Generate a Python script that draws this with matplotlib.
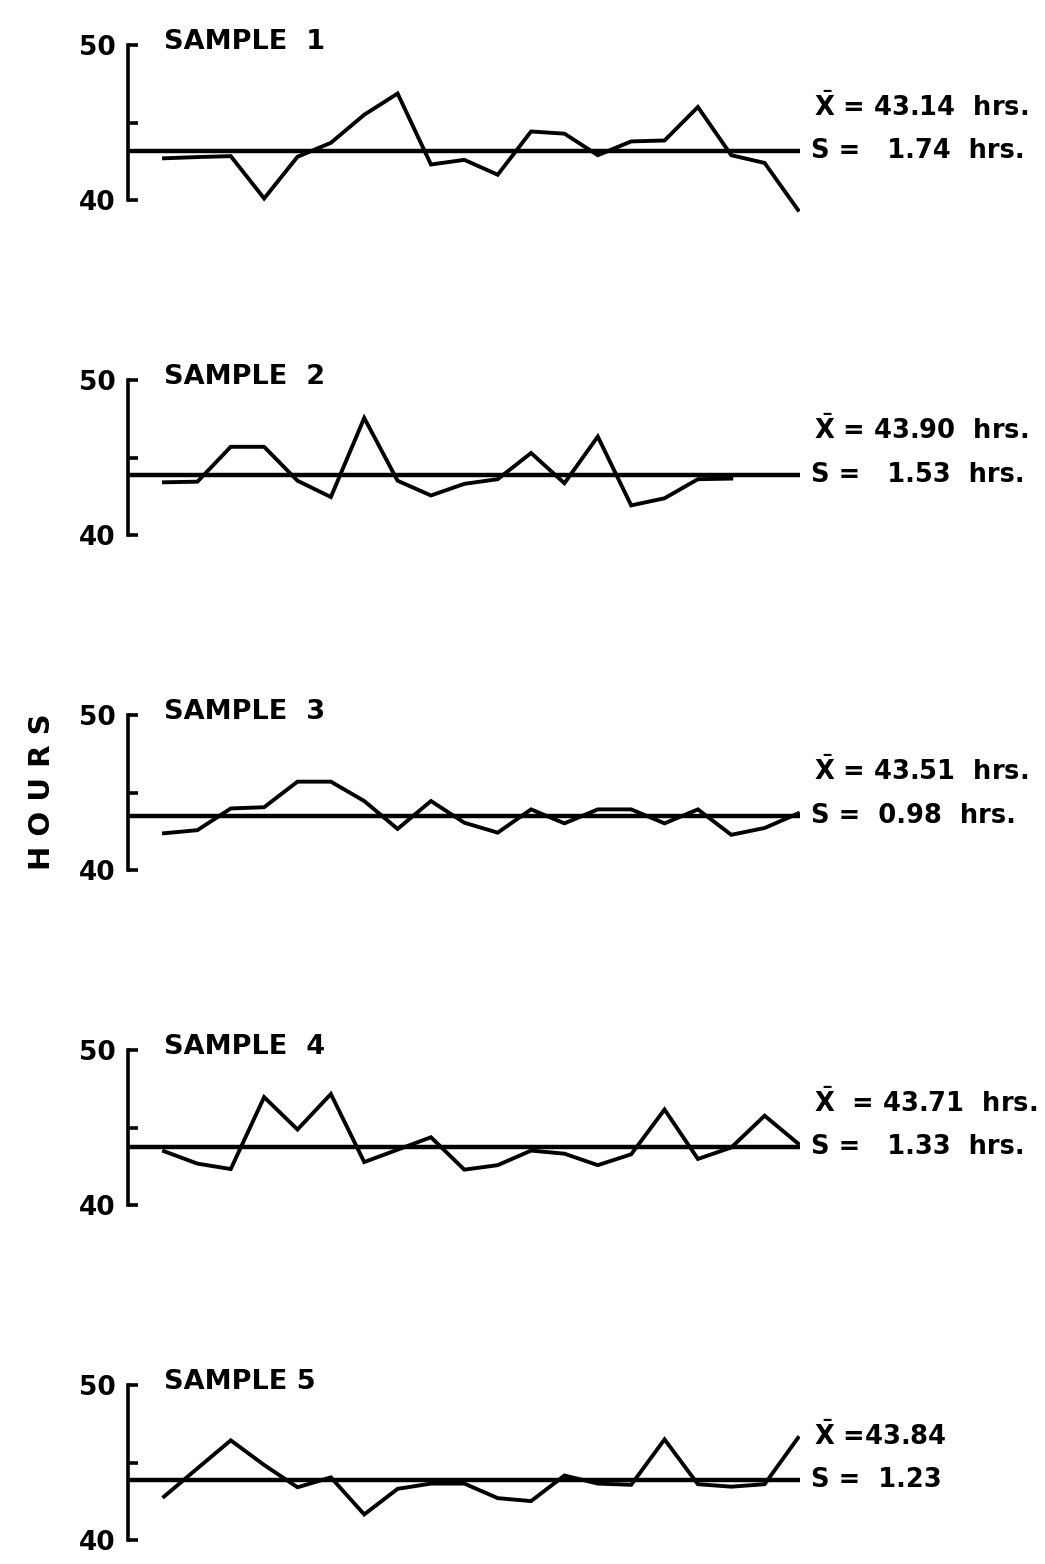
import matplotlib.pyplot as plt
import numpy as np

# weekly hours, 5 samples (sample 2 has only 18 readings)
sample_names = ['SAMPLE  1', 'SAMPLE  2', 'SAMPLE  3', 'SAMPLE  4', 'SAMPLE 5']

hours_1 = [42.69, 42.77, 42.83, 40.10, 42.79, 43.69, 45.50, 46.87, 42.29, 42.59,
           41.63, 44.42, 44.28, 42.89, 43.78, 43.84, 46.00, 42.89, 42.39, 39.36]
hours_2 = [43.40, 43.44, 45.69, 45.69, 43.50, 42.45, 47.55, 43.50, 42.55, 43.30,
           43.60, 45.29, 43.34, 46.35, 41.91, 42.37, 43.60, 43.64]
hours_3 = [42.37, 42.57, 43.97, 44.05, 45.70, 45.70, 44.45, 42.65, 44.45, 43.05,
           42.41, 43.91, 43.01, 43.91, 43.91, 43.01, 43.91, 42.27, 42.71, 43.65]
hours_4 = [43.47, 42.67, 42.32, 46.96, 44.87, 47.16, 42.77, 43.57, 44.37, 42.28,
           42.57, 43.51, 43.31, 42.57, 43.27, 46.16, 42.97, 43.71, 45.76, 43.97]
hours_5 = [42.80, 44.62, 46.43, 44.84, 43.40, 44.04, 41.65, 43.30, 43.64, 43.64,
           42.70, 42.51, 44.16, 43.64, 43.56, 46.49, 43.60, 43.44, 43.60, 46.59]
all_hours = [hours_1, hours_2, hours_3, hours_4, hours_5]

means = [43.14, 43.90, 43.51, 43.71, 43.84]
sds = [1.74, 1.53, 0.98, 1.33, 1.23]
xbar = r'$\mathbf{\bar{X}}$'
mean_labels = [xbar + ' = 43.14  hrs.', xbar + ' = 43.90  hrs.', xbar + ' = 43.51  hrs.',
               xbar + '  = 43.71  hrs.', xbar + ' =43.84']
sd_labels = ['S =   1.74  hrs.', 'S =   1.53  hrs.', 'S =  0.98  hrs.',
             'S =   1.33  hrs.', 'S =  1.23']

W, H = 1045, 1564
plt.rcParams['font.family'] = 'DejaVu Sans'
plt.rcParams['font.weight'] = 'bold'
plt.rcParams['mathtext.fontset'] = 'dejavusans'
fig = plt.figure(figsize=(W / 100, H / 100), dpi=100)

ax_left = 128 / W
ax_width = (800 - 128) / W
px_per_hr = 15.5

for k in range(5):
    top_px = 45 + 335 * k
    bottom_px = top_px + 11 * px_per_hr
    ax = fig.add_axes([ax_left, 1 - bottom_px / H, ax_width, (bottom_px - top_px) / H])
    y = np.array(all_hours[k])
    x = np.arange(len(y))
    ax.plot(x, y, color='black', lw=2.8, solid_joinstyle='miter')
    ax.plot([-1.08, 19.06], [means[k], means[k]], color='black', lw=3.2,
            solid_capstyle='butt')
    ax.set_xlim(-1.08, 19.06)
    ax.set_ylim(39, 50)

    for side in ['top', 'right', 'bottom']:
        ax.spines[side].set_visible(False)
    ax.spines['left'].set_bounds(40, 50)
    ax.spines['left'].set_linewidth(2.6)
    ax.set_xticks([])
    ax.set_yticks([40, 45, 50])
    ax.set_yticklabels(['40', '', '50'])
    ax.tick_params(axis='y', direction='in', length=7, width=2.6, pad=9,
                   labelsize=19)

    ax.text(0, 50.2, sample_names[k], fontsize=19.5, va='center', ha='left')
    ax.annotate(sd_labels[k], xy=(1, means[k]), xycoords=('axes fraction', 'data'),
                xytext=(8, 0), textcoords='offset points', fontsize=18.5,
                va='center', ha='left', annotation_clip=False)
    ax.annotate(mean_labels[k], xy=(1, means[k]), xycoords=('axes fraction', 'data'),
                xytext=(10, 32), textcoords='offset points', fontsize=18.5,
                va='center', ha='left', annotation_clip=False)

fig.text(42 / W, 1 - 792 / H, 'H O U R S', rotation=90, fontsize=21,
         ha='center', va='center')

fig.savefig('out.png', dpi=100)
